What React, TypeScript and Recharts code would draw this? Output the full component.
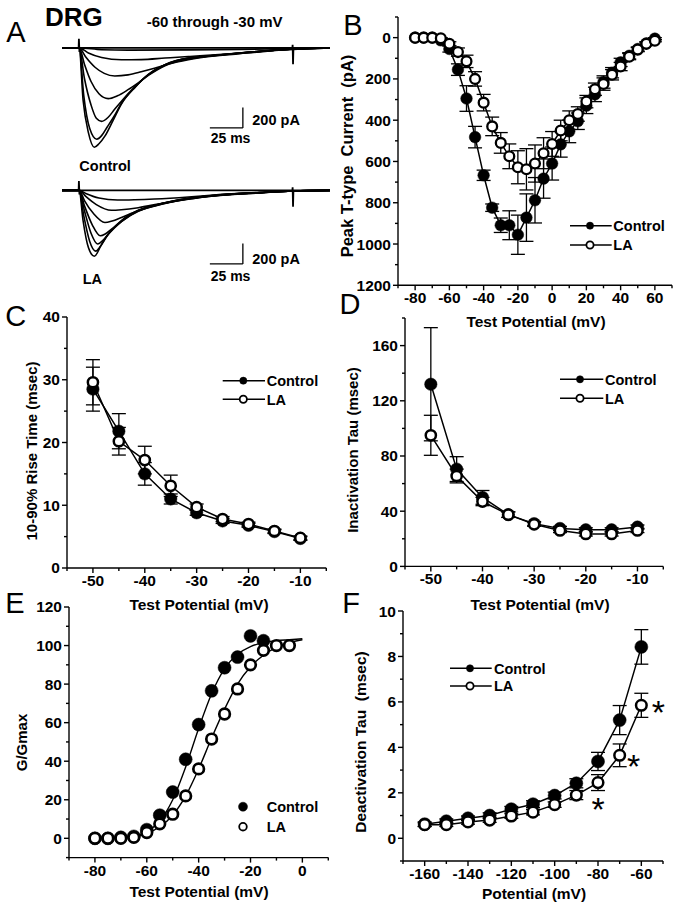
import { LineChart, Line, XAxis, YAxis, ErrorBar, ReferenceLine, ReferenceDot } from "recharts";

const FONT = "'Liberation Sans', Arial, Helvetica, sans-serif";

// ---- A: current traces, -60 through -30 mV  ([ms, pA])
const artifact = [[0, 0], [12.6, 0], [12.8, 90], [13.2, -40], [13.5, 0], [174.5, 0], [174.7, 30], [175, -160], [175.3, 0], [203, 0]];

const ctrl60 = [[0, 0], [13, 0], [30, -18], [50, -22], [96, -20], [135, -15], [173, -6], [203, 0]];
const ctrl55 = [[0, 0], [13, 0], [20, -50], [30, -95], [45, -117], [60, -115], [78, -100], [95.7, -85], [104.5, -78], [134.8, -50], [172.7, -15], [203, 0]];
const ctrl50 = [[0, 0], [13, 0], [18, -90], [25, -190], [32, -250], [40, -276], [50, -265], [60, -235], [70, -200], [80, -160], [95.7, -115], [104.5, -96], [134.8, -57], [172.7, -16], [203, 0]];
const ctrl45 = [[0, 0], [13, 0], [17, -160], [22, -330], [28, -450], [35, -498], [42, -470], [50, -410], [58, -340], [66, -265], [78, -175], [95.7, -108], [104.5, -92], [134.8, -53], [172.7, -14], [203, 0]];
const ctrl40 = [[0, 0], [13, 0], [17, -300], [22, -560], [26, -690], [30, -720], [35, -680], [40, -600], [45.2, -520], [55.3, -380], [65.4, -265], [78, -168], [95.7, -102], [104.5, -89], [134.8, -51], [172.7, -13], [203, 0]];
const ctrl35 = [[0, 0], [13, 0], [16.5, -470], [21, -790], [26.3, -895], [30, -860], [34, -780], [39, -680], [45.2, -540], [55.3, -385], [65.4, -262], [78, -166], [95.7, -100], [104.5, -88], [134.8, -50], [172.7, -12], [203, 0]];
const ctrl30 = [[0, 0], [13, 0], [16, -514], [20, -831], [24.5, -974], [28, -940], [32.6, -863], [38.9, -705], [45.2, -546], [55.3, -387], [65.4, -260], [78, -165], [95.7, -101], [104.5, -89], [134.8, -50], [172.7, -12], [203, 0]];

const la60 = [[0, 0], [13, 0], [18, -30], [28, -75], [42, -95], [55, -92], [70, -85], [95.7, -65], [115, -45], [150, -20], [175, -6], [203, 0]];
const la55 = [[0, 0], [13, 0], [18, -60], [26, -140], [37.5, -195], [45, -190], [57.8, -170], [70.5, -140], [95.7, -88], [115, -56], [150, -25], [175, -7], [203, 0]];
const la50 = [[0, 0], [13, 0], [17, -100], [24, -230], [32.5, -315], [38, -300], [45, -265], [57.8, -200], [70.5, -152], [95.7, -85], [115, -54], [150, -24], [175, -7], [203, 0]];
const la45 = [[0, 0], [13, 0], [17, -150], [23, -340], [29, -445], [33, -425], [38, -375], [46, -295], [57.8, -205], [70.5, -150], [95.7, -82], [115, -52], [150, -23], [175, -6], [203, 0]];
const la40 = [[0, 0], [13, 0], [17, -200], [22, -420], [27, -525], [31, -490], [35, -430], [45, -305], [57.8, -200], [70.5, -148], [95.7, -80], [115, -51], [150, -23], [175, -6], [203, 0]];
const la35 = [[0, 0], [13, 0], [16.5, -250], [21, -500], [25.5, -595], [29, -550], [34, -450], [45, -300], [57.8, -197], [70.5, -146], [95.7, -79], [115, -50], [150, -22], [175, -6], [203, 0]];
const la30 = [[0, 0], [13, 0], [16, -300], [20, -560], [24.5, -645], [30, -528], [35, -428], [45, -295], [57.8, -195], [70.5, -145], [95.7, -78], [115, -50], [150, -22], [175, -6], [203, 0]];

// ---- B: I-V
const bVolt = [-80, -75, -70, -65, -60, -55, -50, -45, -40, -35, -30, -25, -20, -15, -10, -5, 0, 5, 10, 15, 20, 25, 30, 35, 40, 45, 50, 55, 60];
const bCtrl = [0, 0, 0, 13, 55, 155, 295, 482, 667, 824, 909, 909, 955, 872, 788, 683, 610, 517, 454, 405, 330, 275, 215, 170, 120, 88, 55, 28, 5];
const bCtrlErr = [0, 0, 0, 5, 15, 28, 62, 52, 25, 18, 35, 70, 95, 115, 110, 95, 80, 62, 55, 40, 38, 35, 30, 25, 20, 15, 10, 8, 5];
const bLA = [0, 0, 0, 3, 30, 70, 115, 200, 315, 430, 510, 575, 628, 638, 610, 560, 515, 450, 400, 370, 310, 250, 225, 180, 140, 92, 58, 30, 15];
const bLAErr = [0, 0, 0, 3, 10, 20, 30, 35, 40, 45, 50, 60, 80, 100, 90, 75, 60, 50, 45, 35, 30, 30, 30, 25, 20, 15, 10, 8, 5];
const bXTicks = [-90, -80, -70, -60, -50, -40, -30, -20, -10, 0, 10, 20, 30, 40, 50, 60, 70];
const bXLabels = [-80, -60, -40, -20, 0, 20, 40, 60];
const bYTicks = [-100, 0, 100, 200, 300, 400, 500, 600, 700, 800, 900, 1000, 1100, 1200];
const bYLabels = [0, 200, 400, 600, 800, 1000, 1200];

// ---- C: rise time / D: inactivation tau
const cdVolt = [-50, -45, -40, -35, -30, -25, -20, -15, -10];
const cCtrl = [28.5, 21.8, 15.0, 11.0, 8.8, 7.5, 6.8, 5.8, 4.7];
const cCtrlErr = [3.5, 2.8, 1.8, 0.8, 0.4, 0.4, 0.3, 0.3, 0.3];
const cLA = [29.6, 20.2, 17.2, 13.1, 9.7, 7.8, 7.0, 5.9, 4.8];
const cLAErr = [3.6, 2.2, 2.2, 1.7, 0.5, 0.4, 0.3, 0.3, 0.3];
const dCtrl = [132, 70.5, 50, 37.5, 31, 27.5, 26.5, 26.5, 28.5];
const dCtrlErr = [41, 9, 5, 2, 1.5, 1.5, 1.5, 1.5, 1.5];
const dLA = [95, 65.5, 47, 37.5, 30.5, 26, 23.5, 23.5, 26];
const dLAErr = [14.5, 5, 3, 2, 1.5, 1.5, 1.5, 1.5, 1.5];
const cdXTicks = [-55, -50, -45, -40, -35, -30, -25, -20, -15, -10, -5];
const cdXLabels = [-50, -40, -30, -20, -10];
const cYTicks = [0, 5, 10, 15, 20, 25, 30, 35, 40];
const cYLabels = [0, 10, 20, 30, 40];
const dYTicks = [0, 20, 40, 60, 80, 100, 120, 140, 160, 180];
const dYLabels = [0, 40, 80, 120, 160];

// ---- E: activation (G/Gmax) with Boltzmann fits
const eVolt = [-80, -75, -70, -65, -60, -55, -50, -45, -40, -35, -30, -25, -20, -15, -10, -5, 0];
const eCtrl = [0, 0, 0.5, 1, 4.5, 12, 24, 41, 59, 76.5, 88.5, 94, 105, 102.5, null, null, null];
const eLA = [0, 0, 0, 0.5, 3, 7.5, 12.5, 22, 36, 51.5, 64.5, 77.5, 90, 97.5, 100, 100, null];
const eCtrlFit = [0, 0.2, 0.5, 1.2, 3.5, 9, 20, 37, 57, 75, 88, 95.5, 99.5, 101.5, 102.5, 103, 103.5];
const eLAFit = [0, 0.1, 0.3, 0.8, 2.5, 6, 12, 22, 36, 52, 67, 80, 89, 95, 99, 101.5, 103];
const eXTicks = [-90, -80, -70, -60, -50, -40, -30, -20, -10, 0, 10];
const eXLabels = [-80, -60, -40, -20, 0];
const eYTicks = [-10, 0, 10, 20, 30, 40, 50, 60, 70, 80, 90, 100, 110, 120];
const eYLabels = [0, 20, 40, 60, 80, 100, 120];

// ---- F: deactivation tau
const fVolt = [-160, -150, -140, -130, -120, -110, -100, -90, -80, -70, -60];
const fCtrl = [0.62, 0.75, 0.88, 1.0, 1.28, 1.5, 1.88, 2.42, 3.38, 5.2, 8.42];
const fCtrlErr = [0.1, 0.1, 0.1, 0.12, 0.12, 0.15, 0.15, 0.2, 0.4, 0.64, 0.76];
const fLA = [0.6, 0.6, 0.72, 0.8, 0.98, 1.15, 1.48, 1.9, 2.45, 3.65, 5.85];
const fLAErr = [0.08, 0.08, 0.1, 0.1, 0.1, 0.12, 0.12, 0.2, 0.35, 0.5, 0.53];
const fStarVolts = [-80, -70, -60];
const fXTicks = [-170, -160, -150, -140, -130, -120, -110, -100, -90, -80, -70, -60, -50];
const fXLabels = [-160, -140, -120, -100, -80, -60];
const fYTicks = [-1, 0, 1, 2, 3, 4, 5, 6, 7, 8, 9, 10];
const fYLabels = [0, 2, 4, 6, 8, 10];

const pts = (arr: number[][]) => arr.map(([t, i]) => ({ t, i }));

const bData = bVolt.map((v, k) => ({ v, ctrl: bCtrl[k], ctrlErr: bCtrlErr[k], la: bLA[k], laErr: bLAErr[k] }));
const cData = cdVolt.map((v, k) => ({ v, ctrl: cCtrl[k], ctrlErr: cCtrlErr[k], la: cLA[k], laErr: cLAErr[k] }));
const dData = cdVolt.map((v, k) => ({ v, ctrl: dCtrl[k], ctrlErr: dCtrlErr[k], la: dLA[k], laErr: dLAErr[k] }));
const eData = eVolt.map((v, k) => ({ v, ctrl: eCtrl[k], la: eLA[k], ctrlFit: eCtrlFit[k], laFit: eLAFit[k] }));
const fData = fVolt.map((v, k) => ({ v, ctrl: fCtrl[k], ctrlErr: fCtrlErr[k], la: fLA[k], laErr: fLAErr[k] }));

const filledDot = { r: 6.2, fill: "#000", stroke: "#000", strokeWidth: 0.5 };
const openDot = { r: 5.1, fill: "#fff", stroke: "#000", strokeWidth: 2.5 };

function Tick({ x, y, payload, side, labels }: any) {
  const v = payload.value;
  const big = labels.includes(v);
  const len = big ? 5 : 3;
  const ts = { fontFamily: FONT, fontWeight: 700, fontSize: 15.5, fill: "#000" };
  if (side === "left") {
    return (
      <g>
        <line x1={x - len} y1={y} x2={x} y2={y} stroke="#000" strokeWidth={1.4} />
        {big && <text x={x - 7} y={y + 5.5} textAnchor="end" style={ts}>{v}</text>}
      </g>
    );
  }
  return (
    <g>
      <line x1={x} y1={y} x2={x} y2={y + len} stroke="#000" strokeWidth={1.4} />
      {big && <text x={x} y={y + 18} textAnchor="middle" style={ts}>{v}</text>}
    </g>
  );
}

function Panel({ l, t, w, h, data, xDom, yDom, xTicks, xLabels, yTicks, yLabels, reversed, children }: any) {
  const ML = 50, MT = 10, MR = 12, MB = 30;
  return (
    <div style={{ position: "absolute", left: l - ML, top: t - MT }}>
      <LineChart width={w + ML + MR} height={h + MT + MB} data={data} margin={{ top: MT, right: MR, bottom: 0, left: 0 }}>
        <XAxis type="number" dataKey="v" domain={xDom} ticks={xTicks} interval={0} height={MB} tickSize={0} tickMargin={0}
          tickLine={false} allowDataOverflow axisLine={{ stroke: "#000", strokeWidth: 1.4 }}
          tick={(p: any) => <Tick {...p} side="bottom" labels={xLabels} />} />
        <YAxis type="number" domain={yDom} ticks={yTicks} interval={0} width={ML} tickSize={0} tickMargin={0} reversed={reversed}
          tickLine={false} allowDataOverflow axisLine={{ stroke: "#000", strokeWidth: 1.4 }}
          tick={(p: any) => <Tick {...p} side="left" labels={yLabels} />} />
        {children}
      </LineChart>
    </div>
  );
}

function TracePanel({ top, height, yDom, traces, barY }: any) {
  return (
    <div style={{ position: "absolute", left: 62, top }}>
      <LineChart width={268} height={height} margin={{ top: 0, right: 0, bottom: 0, left: 0 }}>
        <XAxis type="number" dataKey="t" domain={[0, 203]} hide allowDataOverflow />
        <YAxis type="number" domain={yDom} hide allowDataOverflow />
        {traces.map((tr: number[][], k: number) => (
          <Line key={k} data={pts(tr)} dataKey="i" type="monotone" stroke="#000" strokeWidth={1.6} dot={false} isAnimationActive={false} />
        ))}
        <Line data={pts(artifact)} dataKey="i" type="linear" stroke="#000" strokeWidth={1.8} dot={false} isAnimationActive={false} />
        <ReferenceLine segment={[{ x: 112, y: barY }, { x: 137, y: barY }]} stroke="#000" strokeWidth={1.3} />
        <ReferenceLine segment={[{ x: 137, y: barY }, { x: 137, y: barY + 200 }]} stroke="#000" strokeWidth={1.3} />
      </LineChart>
    </div>
  );
}

function Txt({ x, y, size = 15, weight = 700, anchor = "start", rotate = false, children }: any) {
  const style = { fontFamily: FONT, fontWeight: weight, fontSize: size, fill: "#000", whiteSpace: "pre" as const };
  if (rotate) {
    return (
      <text transform={`translate(${x},${y}) rotate(-90)`} textAnchor="middle" y={size * 0.36} style={style}>{children}</text>
    );
  }
  return <text x={x} y={y + size * 0.36} textAnchor={anchor} style={style}>{children}</text>;
}

function LegendRow({ x0, x1, mx, tx, y, open, line = true, r = 3.6, label }: any) {
  return (
    <g>
      {line && <line x1={x0} y1={y} x2={x1} y2={y} stroke="#000" strokeWidth={1.5} />}
      <circle cx={mx} cy={y} r={r} fill={open ? "#fff" : "#000"} stroke="#000" strokeWidth={open ? 1.8 : 0.5} />
      <Txt x={tx} y={y} size={14.5}>{label}</Txt>
    </g>
  );
}

export default function App() {
  return (
    <div style={{ position: "absolute", left: 0, top: 0, width: 679, height: 904, background: "#fff", overflow: "hidden" }}>
      {/* A */}
      <TracePanel top={30} height={125} yDom={[-1050, 175]} barY={-785}
        traces={[ctrl60, ctrl55, ctrl50, ctrl45, ctrl40, ctrl35, ctrl30]} />
      <TracePanel top={175} height={92} yDom={[-750, 150]} barY={-720}
        traces={[la60, la55, la50, la45, la40, la35, la30]} />

      {/* B */}
      <Panel l={398} t={16.7} w={274} h={268.3} data={bData} xDom={[-90, 70]} yDom={[-100, 1200]} reversed
        xTicks={bXTicks} xLabels={bXLabels} yTicks={bYTicks} yLabels={bYLabels}>
        <Line dataKey="ctrl" type="linear" stroke="#000" strokeWidth={1.5} dot={{ ...filledDot, r: 5.8 }} isAnimationActive={false}>
          <ErrorBar dataKey="ctrlErr" width={7} stroke="#000" strokeWidth={1.3} direction="y" />
        </Line>
        <Line dataKey="la" type="linear" stroke="#000" strokeWidth={1.5} dot={{ ...openDot, r: 4.9, strokeWidth: 2.3 }} isAnimationActive={false}>
          <ErrorBar dataKey="laErr" width={7} stroke="#000" strokeWidth={1.3} direction="y" />
        </Line>
      </Panel>

      {/* C */}
      <Panel l={66.7} t={317.3} w={259.3} h={251} data={cData} xDom={[-55, -5]} yDom={[0, 40]}
        xTicks={cdXTicks} xLabels={cdXLabels} yTicks={cYTicks} yLabels={cYLabels}>
        <Line dataKey="ctrl" type="linear" stroke="#000" strokeWidth={1.5} dot={filledDot} isAnimationActive={false}>
          <ErrorBar dataKey="ctrlErr" width={7} stroke="#000" strokeWidth={1.3} direction="y" />
        </Line>
        <Line dataKey="la" type="linear" stroke="#000" strokeWidth={1.5} dot={openDot} isAnimationActive={false}>
          <ErrorBar dataKey="laErr" width={7} stroke="#000" strokeWidth={1.3} direction="y" />
        </Line>
      </Panel>

      {/* D */}
      <Panel l={405} t={318.3} w={258.3} h={248.4} data={dData} xDom={[-55, -5]} yDom={[0, 180]}
        xTicks={cdXTicks} xLabels={cdXLabels} yTicks={dYTicks} yLabels={dYLabels}>
        <Line dataKey="ctrl" type="linear" stroke="#000" strokeWidth={1.5} dot={filledDot} isAnimationActive={false}>
          <ErrorBar dataKey="ctrlErr" width={7} stroke="#000" strokeWidth={1.3} direction="y" />
        </Line>
        <Line dataKey="la" type="linear" stroke="#000" strokeWidth={1.5} dot={openDot} isAnimationActive={false}>
          <ErrorBar dataKey="laErr" width={7} stroke="#000" strokeWidth={1.3} direction="y" />
        </Line>
      </Panel>

      {/* E */}
      <Panel l={69} t={606.7} w={259.3} h={250.6} data={eData} xDom={[-90, 10]} yDom={[-10, 120]}
        xTicks={eXTicks} xLabels={eXLabels} yTicks={eYTicks} yLabels={eYLabels}>
        <Line dataKey="ctrlFit" type="monotone" stroke="#000" strokeWidth={1.4} dot={false} isAnimationActive={false} />
        <Line dataKey="laFit" type="monotone" stroke="#000" strokeWidth={1.4} dot={false} isAnimationActive={false} />
        <Line dataKey="ctrl" stroke="none" dot={{ ...filledDot, r: 6.5 }} isAnimationActive={false} />
        <Line dataKey="la" stroke="none" dot={{ ...openDot, r: 5.3, strokeWidth: 2.7 }} isAnimationActive={false} />
      </Panel>

      {/* F */}
      <Panel l={403.3} t={610.7} w={260} h={250} data={fData} xDom={[-170, -50]} yDom={[-1, 10]}
        xTicks={fXTicks} xLabels={fXLabels} yTicks={fYTicks} yLabels={fYLabels}>
        <Line dataKey="ctrl" type="linear" stroke="#000" strokeWidth={1.5} dot={{ ...filledDot, r: 6.5 }} isAnimationActive={false}>
          <ErrorBar dataKey="ctrlErr" width={7} stroke="#000" strokeWidth={1.3} direction="y" />
        </Line>
        <Line dataKey="la" type="linear" stroke="#000" strokeWidth={1.5} dot={{ ...openDot, r: 5.3, strokeWidth: 2.5 }} isAnimationActive={false}>
          <ErrorBar dataKey="laErr" width={7} stroke="#000" strokeWidth={1.3} direction="y" />
        </Line>
        {fStarVolts.map((v, k) => {
          const y = fLA[fVolt.indexOf(v)];
          const dx = [0, 14, 17][k];
          const dy = [19, 4, 0][k];
          return (
            <ReferenceDot key={v} x={v} y={y} r={0} stroke="none" fill="none"
              label={(p: any) => (
                <text x={p.viewBox.x + dx} y={p.viewBox.y + dy + 19} textAnchor="middle"
                  style={{ fontFamily: FONT, fontSize: 34, fill: "#000" }}>*</text>
              )} />
          );
        })}
      </Panel>

      <svg width={679} height={904} style={{ position: "absolute", left: 0, top: 0, pointerEvents: "none" }}>
        {/* panel letters */}
        <Txt x={15.8} y={31.2} size={29} weight={400} anchor="middle">A</Txt>
        <Txt x={352.8} y={24.5} size={29} weight={400} anchor="middle">B</Txt>
        <Txt x={15.8} y={315.5} size={29} weight={400} anchor="middle">C</Txt>
        <Txt x={350} y={304} size={29} weight={400} anchor="middle">D</Txt>
        <Txt x={15} y={603} size={29} weight={400} anchor="middle">E</Txt>
        <Txt x={351} y={603} size={29} weight={400} anchor="middle">F</Txt>

        {/* A annotations */}
        <Txt x={45} y={16.5} size={26}>DRG</Txt>
        <Txt x={146.7} y={21.5} size={15}>-60 through -30 mV</Txt>
        <Txt x={252.3} y={119.5} size={14.5}>200 pA</Txt>
        <Txt x={210.7} y={138} size={14}>25 ms</Txt>
        <Txt x={79.3} y={166} size={14.5}>Control</Txt>
        <Txt x={252.3} y={259} size={14.5}>200 pA</Txt>
        <Txt x={210.7} y={276.3} size={14}>25 ms</Txt>
        <Txt x={82.7} y={278.8} size={14.5}>LA</Txt>

        {/* axis titles */}
        <Txt x={347} y={156} size={16.5} rotate>{"Peak T-type  Current  (pA)"}</Txt>
        <Txt x={536} y={321.5} size={15.5} anchor="middle">Test Potential (mV)</Txt>
        <Txt x={31.5} y={451} size={15} rotate>10-90% Rise Time (msec)</Txt>
        <Txt x={199} y={604} size={15.5} anchor="middle">Test Potential (mV)</Txt>
        <Txt x={353} y={450} size={15} rotate>Inactivation Tau (msec)</Txt>
        <Txt x={540} y={604} size={15.5} anchor="middle">Test Potential (mV)</Txt>
        <Txt x={21.5} y={742.5} size={15} rotate>G/Gmax</Txt>
        <Txt x={199} y={891} size={15.5} anchor="middle">Test Potential (mV)</Txt>
        <Txt x={360.5} y={742} size={15.5} rotate>{"Deactivation Tau  (msec)"}</Txt>
        <Txt x={534} y={893} size={15.5} anchor="middle">Potential (mV)</Txt>

        {/* legends */}
        <LegendRow x0={570} x1={611.7} mx={590} tx={613.3} y={225.7} label="Control" />
        <LegendRow x0={570} x1={611.7} mx={590} tx={613.3} y={245} open label="LA" />
        <LegendRow x0={222.7} x1={265} mx={243.3} tx={266.7} y={380.7} label="Control" />
        <LegendRow x0={222.7} x1={265} mx={243.3} tx={266.7} y={399.3} open label="LA" />
        <LegendRow x0={560} x1={603.3} mx={580} tx={605} y={379.3} label="Control" />
        <LegendRow x0={560} x1={603.3} mx={580} tx={605} y={398.3} open label="LA" />
        <LegendRow line={false} r={4.5} mx={243} tx={266.7} y={806.7} label="Control" />
        <LegendRow line={false} r={3.8} mx={243} tx={266.7} y={826.7} open label="LA" />
        <LegendRow x0={450} x1={491.7} mx={470} tx={494} y={668.3} label="Control" />
        <LegendRow x0={450} x1={491.7} mx={470} tx={494} y={686} open label="LA" />
      </svg>
    </div>
  );
}
